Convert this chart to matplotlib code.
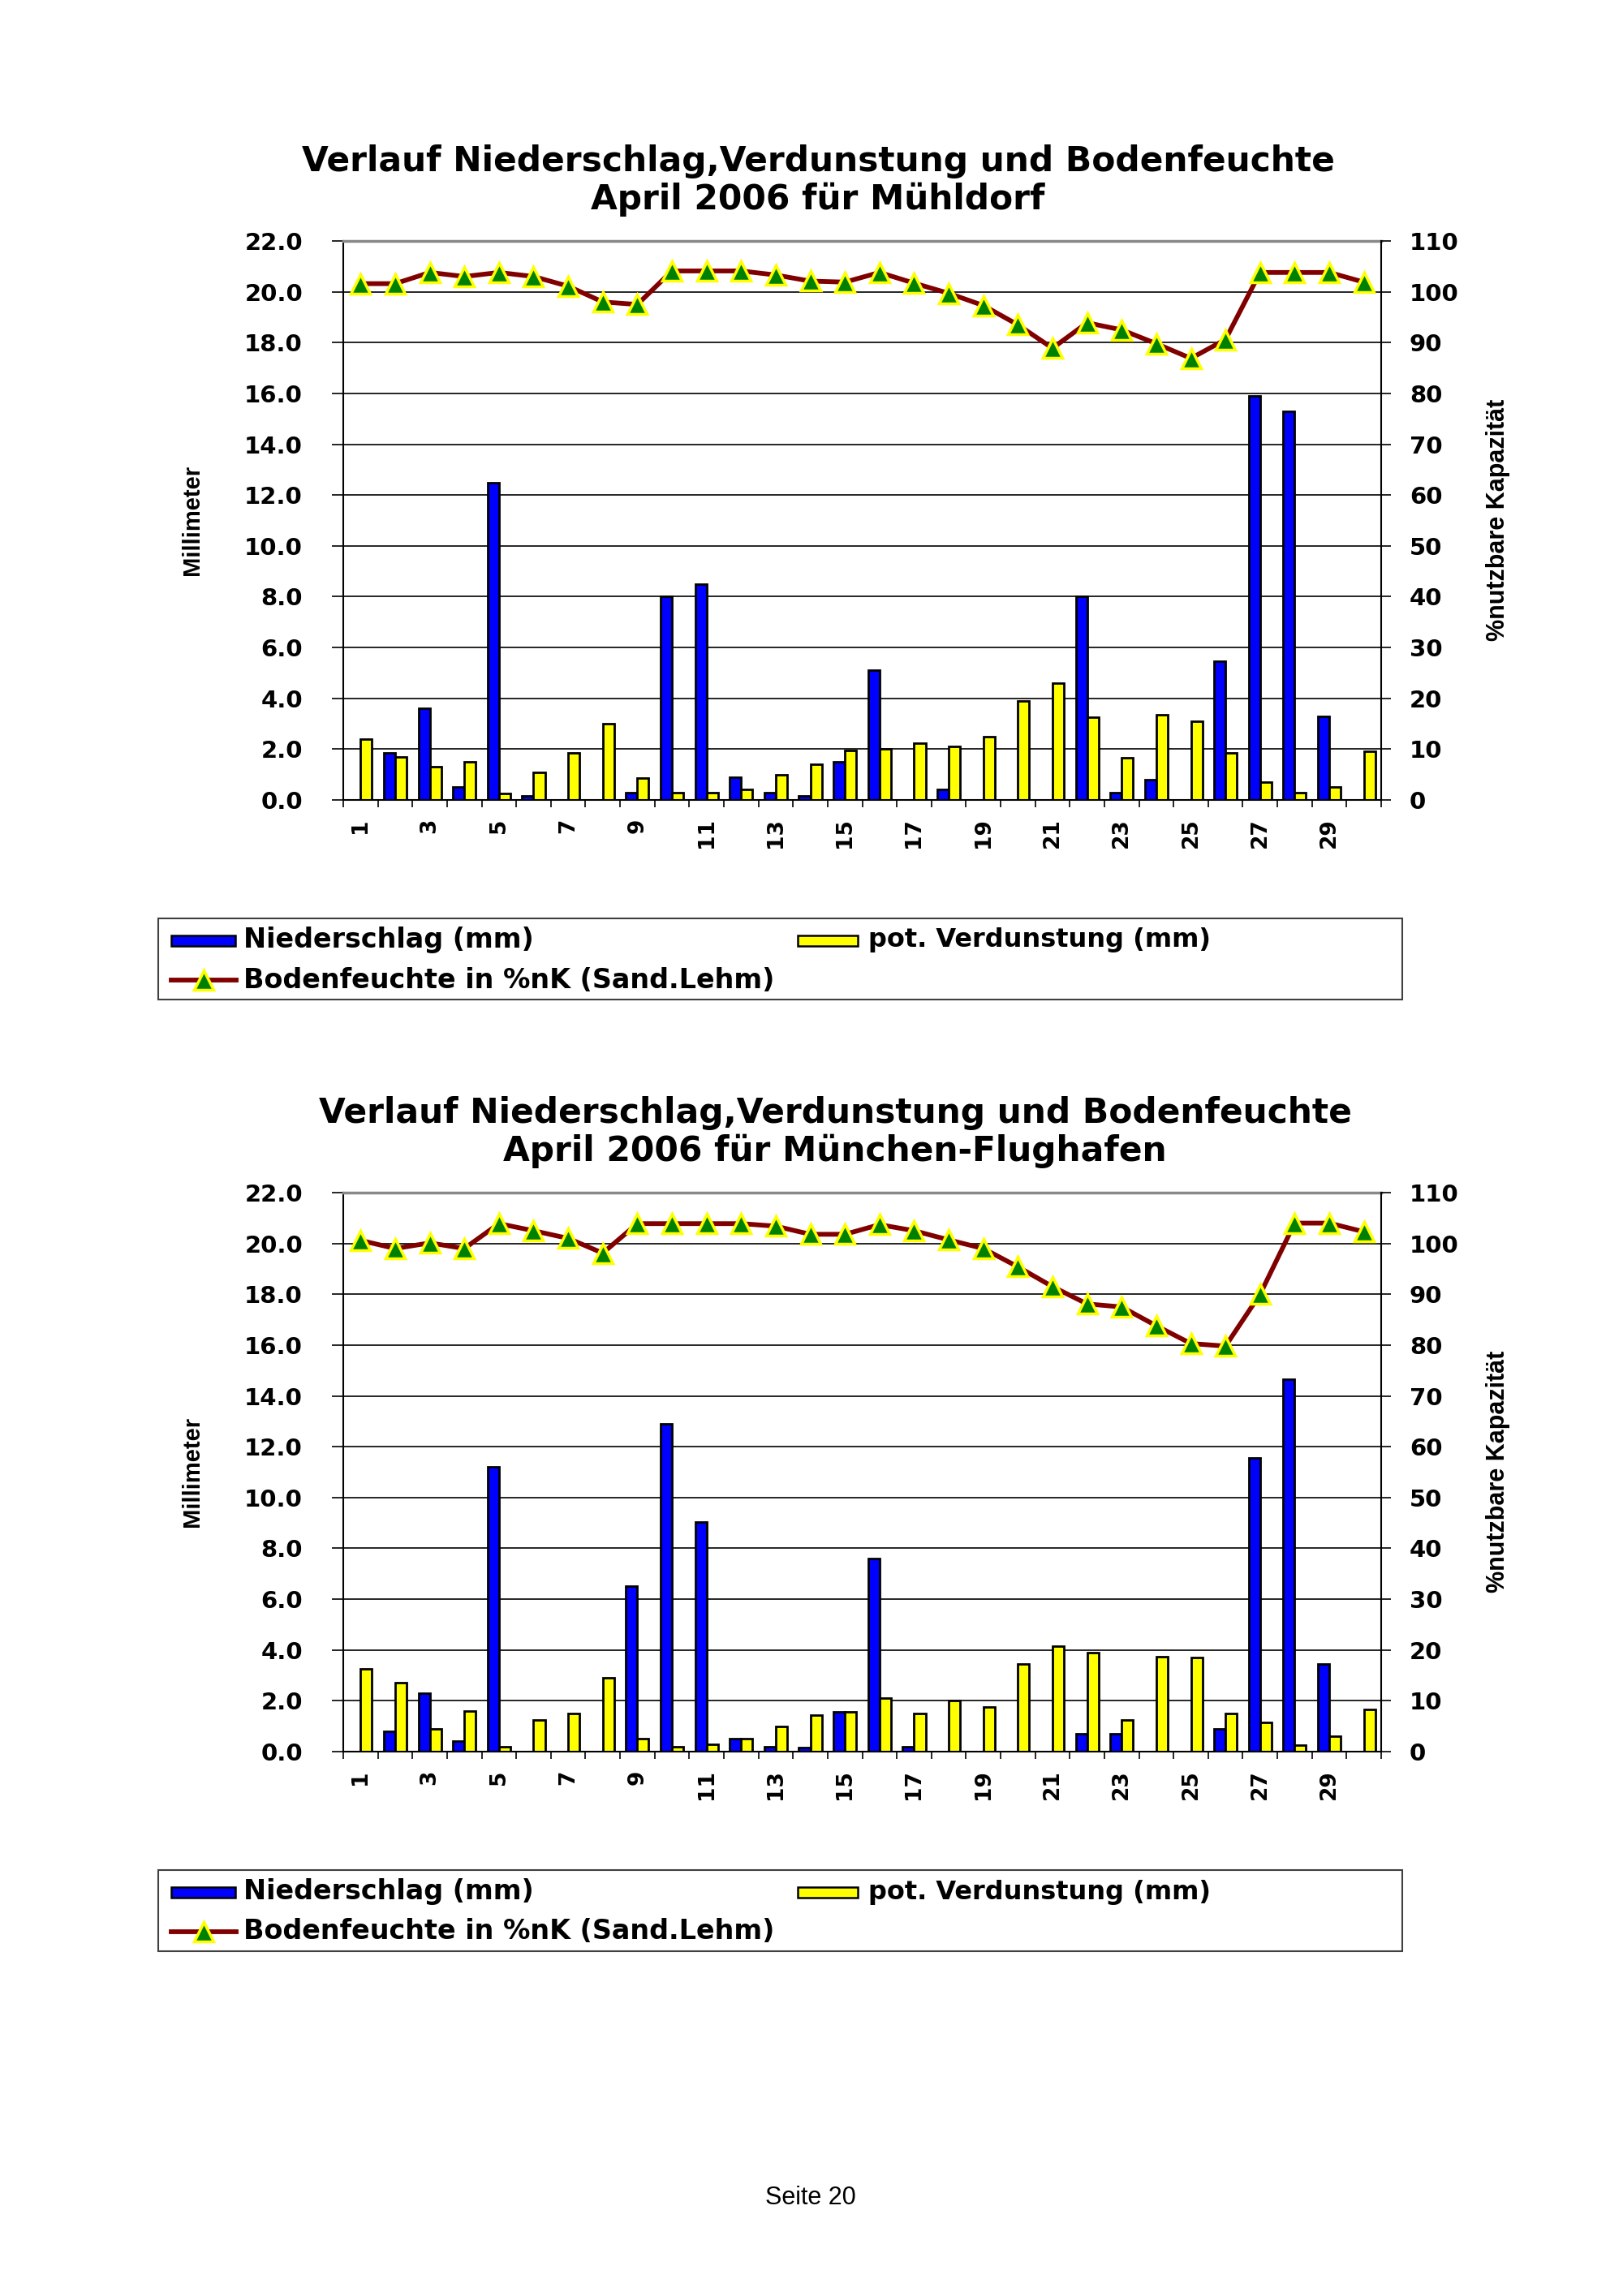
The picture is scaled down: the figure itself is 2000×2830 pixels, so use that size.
import numpy as np
import matplotlib
matplotlib.use("Agg")
import matplotlib.pyplot as plt
from matplotlib.patches import Rectangle
from matplotlib.lines import Line2D
from matplotlib.ticker import FormatStrFormatter

plt.rcParams["font.family"] = ["DejaVu Sans"]

W, H = 2000, 2830

days = list(range(1, 31))
label_days = list(range(1, 30, 2))

# Mühldorf, April 2006
muehl_nieder = [0, 1.85, 3.6, 0.5, 12.5, 0.15, 0, 0, 0.3, 8.0,
                8.5, 0.9, 0.3, 0.15, 1.5, 5.1, 0, 0.4, 0, 0,
                0, 8.0, 0.3, 0.8, 0, 5.45, 15.9, 15.3, 3.3, 0]
muehl_verd = [2.4, 1.7, 1.3, 1.5, 0.25, 1.1, 1.85, 3.0, 0.85, 0.3,
              0.3, 0.4, 1.0, 1.4, 1.95, 2.0, 2.25, 2.1, 2.5, 3.9,
              4.6, 3.25, 1.65, 3.35, 3.1, 1.85, 0.7, 0.3, 0.5, 1.9]
muehl_boden = [101.6, 101.6, 103.8, 103.0, 103.8, 103.0, 101.1, 98.0, 97.5, 104.1,
               104.1, 104.1, 103.3, 102.1, 101.9, 103.8, 101.7, 99.7, 97.3, 93.5,
               88.9, 93.9, 92.5, 89.8, 86.9, 90.6, 103.8, 103.8, 103.8, 101.9]

# München-Flughafen, April 2006
muc_nieder = [0, 0.8, 2.3, 0.4, 11.2, 0, 0, 0, 6.5, 12.9,
              9.05, 0.5, 0.2, 0.15, 1.55, 7.6, 0.18, 0, 0, 0,
              0, 0.7, 0.7, 0, 0, 0.9, 11.55, 14.65, 3.45, 0]
muc_verd = [3.25, 2.7, 0.9, 1.6, 0.2, 1.25, 1.5, 2.9, 0.5, 0.2,
            0.3, 0.5, 1.0, 1.45, 1.55, 2.1, 1.5, 2.0, 1.75, 3.45,
            4.15, 3.9, 1.25, 3.75, 3.7, 1.5, 1.15, 0.25, 0.6, 1.65]
muc_boden = [100.6, 99.0, 100.1, 99.0, 103.9, 102.5, 101.0, 98.1, 103.9, 103.9,
             103.9, 103.9, 103.4, 101.8, 101.8, 103.7, 102.5, 100.7, 99.0, 95.4,
             91.5, 88.1, 87.5, 83.8, 80.3, 79.8, 90.0, 104.0, 104.0, 102.3]

BLUE = "#0000ff"
YELLOW = "#ffff00"
RED = "#800000"
GREEN = "#008000"


def fx(px):
    return px / W


def fy(py):
    return 1 - py / H


def chart(fig, top, title1, title2, title_x, nieder, verd, boden):
    ax = fig.add_axes([fx(423), fy(top + 689), (1702 - 423) / W, 689 / H])
    x = np.array(days)
    ax.bar(x - 0.165, nieder, width=0.33, color=BLUE, edgecolor="black", linewidth=2.0, zorder=2)
    ax.bar(x + 0.165, verd, width=0.33, color=YELLOW, edgecolor="black", linewidth=2.0, zorder=2)
    ax.set_xlim(0.5, 30.5)
    ax.set_ylim(0, 22)
    ax.set_yticks(np.arange(0, 22.1, 2))
    ax.yaxis.set_major_formatter(FormatStrFormatter("%.1f"))
    ax.grid(axis="y", color="black", linewidth=1.2)
    ax.set_axisbelow(True)

    ax.set_xticks(np.arange(0.5, 31, 1))
    ax.set_xticklabels([])
    ax.set_xticks(label_days, minor=True)
    ax.set_xticklabels([str(d) for d in label_days], minor=True, rotation=90,
                       fontsize=19, fontweight="bold")
    ax.tick_params(axis="x", which="major", length=6.5, width=1.2, direction="out")
    ax.tick_params(axis="x", which="minor", length=0, pad=16)
    ax.tick_params(axis="y", length=10, width=1.2, pad=26, labelsize=21)
    for lab in ax.get_yticklabels():
        lab.set_fontweight("heavy")

    ax.spines["top"].set_color("#888888")
    ax.spines["top"].set_linewidth(2.5)
    ax.spines["right"].set_visible(False)
    ax.spines["left"].set_linewidth(1.5)
    ax.spines["bottom"].set_linewidth(1.5)

    ax2 = ax.twinx()
    ax2.plot(x, boden, color=RED, linewidth=4.2, marker="^", markersize=17,
             markerfacecolor=GREEN, markeredgecolor=YELLOW, markeredgewidth=2.5, zorder=3)
    ax2.set_ylim(0, 110)
    ax2.set_yticks(range(0, 111, 10))
    ax2.tick_params(axis="y", length=8.6, width=1.2, pad=16.5, labelsize=21)
    for lab in ax2.get_yticklabels():
        lab.set_fontweight("heavy")
    for s in ["top", "left", "bottom"]:
        ax2.spines[s].set_visible(False)
    ax2.spines["right"].set_linewidth(1.5)

    fig.text(fx(237), fy(top + 344), "Millimeter", rotation=90, ha="center", va="center",
             fontsize=21, fontweight="bold", family="Liberation Sans")
    fig.text(fx(1846), fy(top + 344), "%nutzbare Kapazität", rotation=90, ha="center", va="center",
             fontsize=22, fontweight="bold", family="Liberation Sans")

    fig.text(fx(title_x), fy(top - 98), title1, ha="center", va="center", fontsize=30.5, fontweight="bold")
    fig.text(fx(title_x), fy(top - 51), title2, ha="center", va="center", fontsize=30.5, fontweight="bold")

    # legend box
    fig.add_artist(Rectangle((fx(195), fy(top + 935)), (1728 - 195) / W, 100 / H,
                             transform=fig.transFigure, fill=False, edgecolor="#404040", linewidth=1.5))
    r1 = top + 862
    r2 = top + 911
    fig.add_artist(Rectangle((fx(211), fy(r1 + 6.5)), 79 / W, 13 / H, transform=fig.transFigure,
                             facecolor=BLUE, edgecolor="black", linewidth=1.8))
    fig.add_artist(Rectangle((fx(983), fy(r1 + 6.5)), 74 / W, 13 / H, transform=fig.transFigure,
                             facecolor=YELLOW, edgecolor="black", linewidth=1.8))
    fig.text(fx(300), fy(r1), "Niederschlag (mm)", va="center", fontsize=24, fontweight="bold")
    fig.text(fx(1070), fy(r1), "pot. Verdunstung (mm)", va="center", fontsize=23, fontweight="bold")
    fig.add_artist(Line2D([fx(211), fx(291)], [fy(r2), fy(r2)], transform=fig.transFigure,
                          color=RED, linewidth=4.2))
    fig.add_artist(Line2D([fx(251)], [fy(r2)], transform=fig.transFigure, marker="^", markersize=17,
                          markerfacecolor=GREEN, markeredgecolor=YELLOW, markeredgewidth=2.5))
    fig.text(fx(300), fy(r2), "Bodenfeuchte in %nK (Sand.Lehm)", va="center", fontsize=24,
             fontweight="bold")
    return ax, ax2


fig = plt.figure(figsize=(W / 100, H / 100), dpi=100)
fig.patch.set_facecolor("white")

chart(fig, 297, "Verlauf Niederschlag,Verdunstung und Bodenfeuchte", "April 2006 für Mühldorf",
      1008, muehl_nieder, muehl_verd, muehl_boden)
chart(fig, 1470, "Verlauf Niederschlag,Verdunstung und Bodenfeuchte", "April 2006 für München-Flughafen",
      1029, muc_nieder, muc_verd, muc_boden)

fig.text(fx(999), fy(2709), "Seite 20", ha="center", va="center", fontsize=22, family="Liberation Sans")

fig.savefig("out.png", dpi=100, facecolor="white")
